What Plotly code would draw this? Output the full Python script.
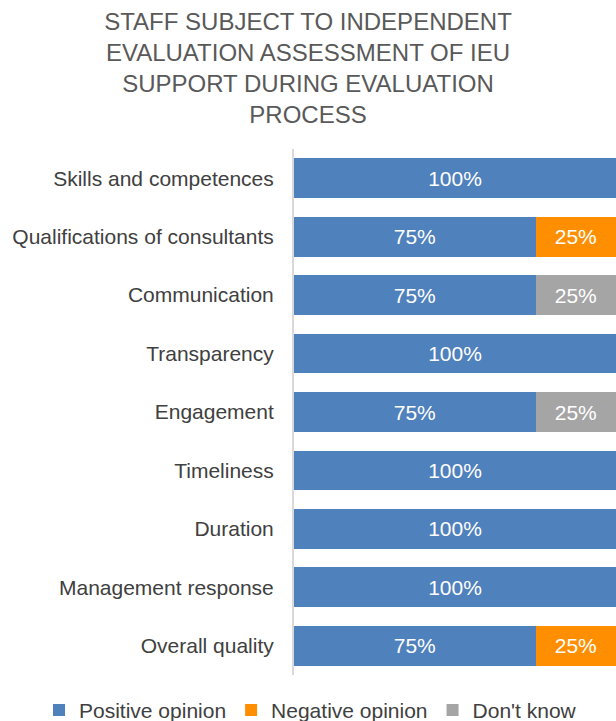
import plotly.graph_objects as go

categories = [
    "Skills and competences",
    "Qualifications of consultants",
    "Communication",
    "Transparency",
    "Engagement",
    "Timeliness",
    "Duration",
    "Management response",
    "Overall quality",
]
positive = [1.00, 0.75, 0.75, 1.00, 0.75, 1.00, 1.00, 1.00, 0.75]
negative = [0.00, 0.25, 0.00, 0.00, 0.00, 0.00, 0.00, 0.00, 0.25]
dont_know = [0.00, 0.00, 0.25, 0.00, 0.25, 0.00, 0.00, 0.00, 0.00]

series = [
    ("Positive opinion", positive, "#4F81BD"),
    ("Negative opinion", negative, "#FF8F00"),
    ("Don't know", dont_know, "#A5A5A5"),
]

FONT = "Liberation Sans, Arial, sans-serif"

fig = go.Figure()
for name, vals, color in series:
    fig.add_trace(
        go.Bar(
            name=name,
            y=categories,
            x=vals,
            orientation="h",
            marker_color=color,
            marker_line_width=0,
            text=[f"{v:.0%}" if v > 0 else "" for v in vals],
            textposition="inside",
            insidetextanchor="middle",
            textfont=dict(color="white", size=21, family=FONT),
            width=0.68,
        )
    )

fig.update_layout(
    barmode="stack",
    width=616,
    height=721,
    margin=dict(l=294, r=0, t=149, b=46, autoexpand=False),
    paper_bgcolor="white",
    plot_bgcolor="white",
    font=dict(family=FONT, color="#404040"),
    title=dict(
        text="STAFF SUBJECT TO INDEPENDENT<br>EVALUATION ASSESSMENT OF IEU<br>SUPPORT DURING EVALUATION<br>PROCESS",
        x=0.5,
        xanchor="center",
        y=0.959,
        yanchor="top",
        font=dict(size=24, color="#595959", family=FONT),
    ),
    xaxis=dict(
        range=[0, 1],
        showgrid=False,
        showticklabels=False,
        zeroline=False,
        fixedrange=True,
    ),
    yaxis=dict(
        autorange="reversed",
        showline=True,
        linecolor="#D9D9D9",
        linewidth=2,
        ticks="",
        ticklabelstandoff=14,
        tickfont=dict(size=21, color="#404040"),
        showgrid=False,
    ),
    legend=dict(
        orientation="h",
        traceorder="normal",
        x=(39 - 294) / 322,
        xanchor="left",
        y=-0.067,
        yanchor="middle",
        font=dict(size=21, color="#404040"),
    ),
)

fig.write_html(
    "out.html",
    config={"displayModeBar": False},
    post_script="document.body.style.margin='0';",
)
